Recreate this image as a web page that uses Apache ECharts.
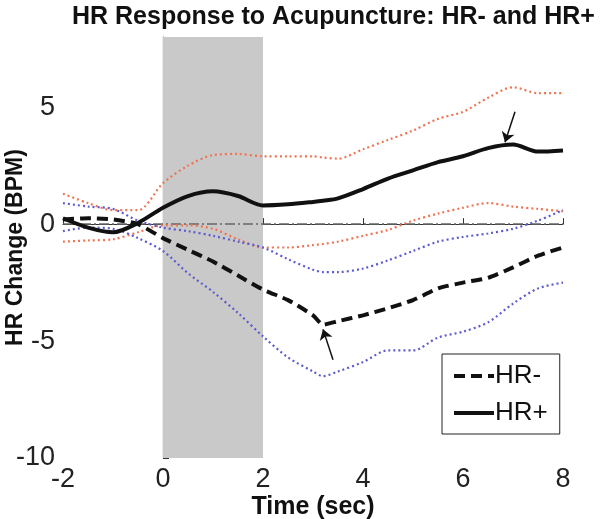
<!DOCTYPE html>
<html>
<head>
<meta charset="utf-8">
<script src="https://cdn.jsdelivr.net/npm/echarts@6/dist/echarts.min.js"></script>
<style>
  html, body { margin: 0; padding: 0; background: #fff; }
  #chart { width: 600px; height: 519px; }
</style>
</head>
<body>
<div id="chart"></div>
<script>
// time points (sec)
var timeSec = [-2, -1.5, -1, -0.5, 0, 0.5, 1, 1.5, 2, 2.5, 3, 3.2, 3.5, 4, 4.5, 5, 5.5, 6, 6.5, 7, 7.5, 8];

// mean responses
var hrMinus = [0.2, 0.25, 0.2, 0.0, -0.6, -1.1, -1.6, -2.2, -2.8, -3.25, -3.9, -4.3, -4.15, -3.9, -3.6, -3.25, -2.75, -2.5, -2.3, -1.85, -1.35, -1.0];
var hrPlus = [0.25, -0.15, -0.35, 0.05, 0.7, 1.2, 1.4, 1.2, 0.8, 0.85, 0.95, 1.0, 1.1, 1.5, 1.95, 2.3, 2.65, 2.9, 3.25, 3.4, 3.1, 3.15];

// confidence bounds
var hrPlusUpper = [1.3, 0.9, 0.6, 0.6, 1.75, 2.5, 2.95, 3.0, 2.9, 2.9, 2.9, 2.85, 2.8, 3.2, 3.6, 4.0, 4.5, 4.8, 5.4, 5.85, 5.6, 5.6];
var hrPlusLower = [-0.75, -0.7, -0.65, -0.35, -0.05, -0.05, -0.2, -0.65, -1.0, -1.0, -0.9, -0.85, -0.75, -0.5, -0.25, 0.15, 0.45, 0.7, 0.9, 0.75, 0.65, 0.55];
var hrMinusUpper = [0.9, 0.75, 0.65, 0.15, -0.15, -0.3, -0.5, -0.75, -1.0, -1.5, -1.95, -2.05, -2.05, -1.9, -1.55, -1.15, -0.75, -0.55, -0.4, -0.2, 0.15, 0.6];
var hrMinusLower = [-0.3, -0.15, -0.2, -0.6, -1.15, -2.1, -2.9, -3.8, -4.8, -5.7, -6.3, -6.5, -6.3, -5.9, -5.4, -5.4, -4.85, -4.6, -4.2, -3.4, -2.75, -2.5];

// stimulation window and arrows
var stimWindow = [0, 2];
var arrowPlus = [[7.04, 4.8], [6.84, 3.5]];
var arrowMinus = [[3.4, -5.8], [3.2, -4.5]];

var yTicks = [-10, -5, 0, 5];

function pairs(ys) {
  return timeSec.map(function (t, i) { return [t, ys[i]]; });
}

var chart = echarts.init(document.getElementById("chart"));

function dottedSeries(name, ys, color) {
  return {
    name: name,
    type: "line",
    data: pairs(ys),
    smooth: 0.3,
    showSymbol: false,
    symbol: "none",
    silent: true,
    z: 3,
    lineStyle: { color: color, width: 2.2, type: [2, 3] },
  };
}

var arrowLine = {
  symbol: ["none", "arrow"],
  symbolSize: 10,
  silent: true,
  label: { show: false },
  lineStyle: { color: "#111", width: 1.5, type: "solid" },
  itemStyle: { color: "#111" },
  emphasis: { disabled: true },
};

var option = {
  animation: false,
  backgroundColor: "#fff",
  title: {
    text: "HR Response to Acupuncture: HR- and HR+",
    left: 67,
    top: 0,
    textStyle: { fontFamily: "Liberation Sans", fontSize: 25, fontWeight: "bold", color: "#111" },
  },
  grid: { left: 63, right: 37, top: 37, bottom: 61, outerBoundsMode: "none", containLabel: false },
  legend: {
    data: ["HR-", "HR+"],
    orient: "vertical",
    left: 442,
    top: 354,
    itemWidth: 40,
    itemHeight: 14,
    itemGap: 11,
    padding: [9, 12, 8, 10],
    borderColor: "#222",
    borderWidth: 1,
    backgroundColor: "#fff",
    selectedMode: false,
    itemStyle: { opacity: 0 },
    lineStyle: { width: 4 },
    textStyle: { fontFamily: "Liberation Sans", fontSize: 26, color: "#111", padding: [0, 0, 0, -4] },
  },
  xAxis: {
    type: "value",
    min: -2,
    max: 8,
    interval: 2,
    name: "Time (sec)",
    nameLocation: "middle",
    nameGap: 37,
    nameMoveOverlap: false,
    nameTextStyle: { fontFamily: "Liberation Sans", fontSize: 25, fontWeight: "bold", color: "#111" },
    axisLine: { lineStyle: { color: "#333", width: 1.2 } },
    axisTick: { inside: true, length: 6, lineStyle: { color: "#333" } },
    axisLabel: { fontFamily: "Liberation Sans", fontSize: 27, color: "#222", margin: 8 },
    splitLine: { show: false },
  },
  yAxis: {
    type: "value",
    min: -10,
    max: 8,
    interval: 5,
    name: "HR Change (BPM)",
    nameLocation: "middle",
    nameRotate: 90,
    nameGap: 36,
    nameMoveOverlap: false,
    nameTextStyle: { fontFamily: "Liberation Sans", fontSize: 23, fontWeight: "bold", color: "#111" },
    axisLine: { show: true, lineStyle: { color: "#333", width: 1.2 } },
    axisTick: { show: true, inside: true, length: 6, customValues: yTicks, lineStyle: { color: "#333" } },
    axisLabel: { fontFamily: "Liberation Sans", fontSize: 27, color: "#222", margin: 8, customValues: yTicks },
    splitLine: { show: false },
  },
  series: [
    {
      name: "zero",
      type: "line",
      data: [[-2, 0], [8, 0]],
      showSymbol: false,
      symbol: "none",
      silent: true,
      z: 1,
      lineStyle: { color: "#666", width: 1.5, type: [10, 3, 2, 3] },
      markArea: {
        silent: true,
        itemStyle: { color: "#c9c9c9" },
        data: [[{ xAxis: stimWindow[0] }, { xAxis: stimWindow[1] }]],
      },
    },
    dottedSeries("HR+ upper", hrPlusUpper, "#ee7452"),
    dottedSeries("HR+ lower", hrPlusLower, "#ee7452"),
    dottedSeries("HR- upper", hrMinusUpper, "#5c5cd0"),
    dottedSeries("HR- lower", hrMinusLower, "#5c5cd0"),
    {
      name: "HR-",
      type: "line",
      data: pairs(hrMinus),
      smooth: 0.2,
      showSymbol: false,
      symbol: "none",
      z: 4,
      itemStyle: { color: "#111" },
      lineStyle: { color: "#111", width: 4, type: [11, 6] },
      markLine: Object.assign({}, arrowLine, {
        data: [[{ coord: arrowMinus[0] }, { coord: arrowMinus[1] }]],
      }),
    },
    {
      name: "HR+",
      type: "line",
      data: pairs(hrPlus),
      smooth: 0.3,
      showSymbol: false,
      symbol: "none",
      z: 4,
      itemStyle: { color: "#111" },
      lineStyle: { color: "#111", width: 4, type: "solid" },
      markLine: Object.assign({}, arrowLine, {
        data: [[{ coord: arrowPlus[0] }, { coord: arrowPlus[1] }]],
      }),
    },
  ],
};

chart.setOption(option);
</script>
</body>
</html>
